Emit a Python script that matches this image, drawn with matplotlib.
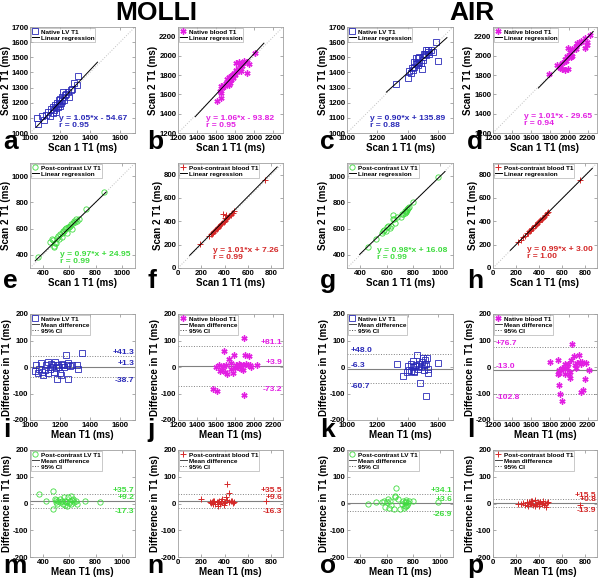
import numpy as np
import matplotlib
matplotlib.use("Agg")
from matplotlib import pyplot as plt
from matplotlib.lines import Line2D
from matplotlib.transforms import blended_transform_factory

plt.rcParams["font.family"] = ["Liberation Sans", "DejaVu Sans"]
plt.rcParams["font.weight"] = "bold"
plt.rcParams["axes.labelweight"] = "bold"
plt.rcParams["axes.unicode_minus"] = False

# ---------------- scan 1 vs scan 2 (ms) ----------------
molli_lv_s1 = [1045, 1050, 1080, 1090, 1105, 1120, 1130, 1140, 1150, 1160, 1165, 1170, 1180, 1185, 1190, 1195, 1200,
               1205, 1210, 1215, 1220, 1225, 1230, 1240, 1250, 1260, 1270, 1280, 1295, 1310, 1320, 1175, 1150, 1200]
molli_lv_s2 = [1100, 1060, 1110, 1085, 1120, 1140, 1115, 1160, 1175, 1150, 1185, 1165, 1200, 1175, 1215, 1190, 1225,
               1200, 1240, 1210, 1270, 1215, 1250, 1260, 1270, 1240, 1285, 1290, 1330, 1320, 1375, 1140, 1130, 1180]

molli_bl_s1 = [1612, 1655, 1640, 1650, 1665, 1680, 1690, 1700, 1710, 1720, 1730, 1740, 1750, 1760, 1770, 1780, 1790,
               1800, 1810, 1820, 1810, 1840, 1850, 1860, 1870, 1880, 1890, 1920, 1920, 1945, 2010, 1655, 1730, 1835]
molli_bl_s2 = [1528, 1565, 1640, 1620, 1670, 1700, 1690, 1720, 1760, 1740, 1780, 1720, 1750, 1790, 1800, 1770, 1820,
               1800, 1850, 1830, 1925, 1860, 1880, 1840, 1900, 1930, 1950, 1820, 1940, 1920, 2030, 1690, 1700, 1940]

air_lv_s1 = [1322, 1404, 1411, 1422, 1427, 1433, 1444, 1444, 1456, 1456, 1467, 1471, 1478, 1478, 1489, 1493, 1500,
             1511, 1522, 1522, 1533, 1533, 1544, 1556, 1567, 1589, 1600, 1462, 1505, 1515]
air_lv_s2 = [1324, 1361, 1411, 1396, 1431, 1415, 1437, 1470, 1455, 1492, 1492, 1448, 1470, 1503, 1459, 1420, 1485,
             1525, 1547, 1514, 1536, 1551, 1525, 1547, 1536, 1600, 1477, 1460, 1500, 1520]

air_bl_s1 = [1797, 1879, 1908, 1906, 1905, 1929, 1960, 1992, 1950, 1959, 1984, 1987, 2021, 2038, 2013, 1993, 2035,
             2061, 2078, 2083, 2086, 2110, 2174, 2128, 2135, 2198, 2193, 2172, 2226, 1929, 1977, 2020]
air_bl_s2 = [1817, 1904, 1896, 1885, 1877, 1861, 1858, 1862, 1941, 1969, 1981, 1999, 1993, 1998, 2038, 2080, 2076,
             2069, 2075, 2099, 2133, 2130, 2081, 2140, 2155, 2113, 2147, 2188, 2214, 1926, 1952, 2002]

molli_pclv_s1 = [359, 450, 485, 465, 478, 490, 502, 515, 527, 540, 552, 564, 577, 589, 601, 614, 626, 638, 651, 675,
                 725, 860, 500, 520, 545, 560, 580, 600, 620, 640, 660, 480]
molli_pclv_s2 = [385, 498, 463, 518, 513, 492, 528, 544, 556, 569, 582, 595, 608, 615, 620, 633, 646, 659, 672, 672,
                 749, 877, 490, 520, 540, 580, 570, 610, 600, 650, 660, 470]

molli_pcbl_s1 = [192, 269, 280, 290, 300, 310, 320, 330, 340, 350, 360, 370, 380, 387, 390, 400, 403, 410, 415, 420,
                 430, 440, 450, 460, 470, 480, 746, 300, 340, 365]
molli_pcbl_s2 = [208, 273, 290, 295, 305, 318, 330, 335, 345, 362, 365, 375, 390, 460, 392, 405, 426, 418, 453, 425,
                 440, 450, 455, 470, 475, 486, 754, 300, 350, 380]

air_pclv_s1 = [461, 520, 563, 571, 596, 599, 622, 665, 645, 655, 644, 675, 709, 716, 739, 735, 745, 750, 755, 760,
               770, 796, 988, 580, 610, 630, 720, 745]
air_pclv_s2 = [461, 524, 568, 581, 583, 615, 607, 643, 674, 677, 702, 691, 687, 714, 721, 735, 738, 748, 742, 758,
               765, 804, 992, 590, 620, 620, 715, 730]

air_pcbl_s1 = [214, 240, 260, 280, 290, 300, 310, 320, 330, 340, 350, 360, 370, 380, 390, 400, 410, 420, 430, 440,
               450, 460, 470, 480, 757, 330, 360, 395, 425]
air_pcbl_s2 = [220, 238, 262, 276, 296, 298, 315, 318, 332, 345, 345, 360, 372, 378, 392, 398, 410, 418, 430, 438,
               452, 455, 468, 478, 752, 322, 368, 400, 420]

# regression: slope, intercept, r
fit_slope = [1.05, 1.06, 0.90, 1.01, 0.97, 1.01, 0.98, 0.99]
fit_icept = [-54.67, -93.82, 135.89, -29.65, 24.95, 7.26, 16.08, 3.00]
fit_r = [0.95, 0.95, 0.88, 0.94, 0.99, 0.99, 0.99, 1.00]
fit_xrange = [(1040, 1450), (1380, 2100), (1260, 1660), (1680, 2260),
              (340, 880), (100, 850), (395, 1040), (150, 860)]

# ---------------- Bland-Altman: mean (ms), difference (ms) ----------------
ba_molli_lv_m = [1033, 1040, 1051, 1060, 1073, 1078, 1089, 1100, 1107, 1118, 1122, 1133, 1140, 1144, 1156, 1162, 1167,
                 1173, 1178, 1184, 1193, 1200, 1207, 1211, 1222, 1229, 1238, 1244, 1251, 1256, 1267, 1278, 1311, 1318, 1344]
ba_molli_lv_d = [-16, 6, -21, -9, 16, -19, -29, -12, 6, 19, -21, -6, 12, 0, 6, -19, 19,
                 -4, -44, 9, 1, -21, -29, 10, 6, 0, 46, 6, 16, -46, 4, 9, 6, -6, 54]

ba_molli_bl_m = [1570, 1610, 1680, 1890, 1890, 1900, 1940, 2030, 1593, 1629, 1657, 1671, 1700, 1718, 1736, 1754, 1771,
                 1789, 1807, 1825, 1843, 1861, 1879, 1914, 1932, 1950, 1968, 1645, 1690, 1760, 1800, 1850, 1880]
ba_molli_bl_d = [-84, -91, 59, 110, -106, 46, 40, 6, 0, 9, -12, 4, 6, -25, 31, -6, -21,
                 46, 6, 0, 12, -6, 6, 11, 6, 6, 0, -15, -20, 15, -5, 8, -10]

ba_air_lv_m = [1329, 1367, 1396, 1400, 1411, 1422, 1433, 1440, 1444, 1456, 1462, 1467, 1473, 1480, 1489, 1496, 1502,
               1507, 1511, 1518, 1524, 1529, 1533, 1538, 1522, 1600, 1433, 1450, 1422, 1478]
ba_air_lv_d = [12, -35, -19, 3, -10, 12, 0, -19, -15, 6, 44, -6, 10, -62, 0, 19, 35,
               -10, 6, 25, 12, 35, -6, -22, -110, 15, 22, 5, -15, 2]

ba_air_bl_m = [1807, 1891, 1902, 1895, 1891, 1895, 1909, 1927, 1945, 1964, 1982, 1993, 2007, 2018, 2025, 2036, 2055,
               2065, 2076, 2091, 2109, 2120, 2127, 2134, 2145, 2155, 2170, 2180, 2220, 1927, 1964, 2011]
ba_air_bl_d = [20, 25, -12, -21, -28, -68, -102, -130, -9, 10, -3, 12, -28, -40, 25, 87, 41,
               8, -3, 16, 47, 20, -93, 12, 20, -85, -46, 16, -12, -3, -25, -18]

ba_molli_pclv_m = [368, 425, 474, 474, 492, 499, 509, 516, 527, 540, 552, 560, 569, 577, 584, 592, 601, 609, 616, 626,
                   638, 651, 656, 720, 836, 530, 565, 600, 620, 500]
ba_molli_pclv_d = [35, 8, 48, -22, 16, 4, -3, 8, 4, 10, 0, 23, 10, 4, -9, 25, 10, 29, 0, 16,
                   4, 8, -3, 8, 4, 18, -5, 2, 12, 12]

ba_molli_pcbl_m = [200, 271, 280, 290, 300, 310, 320, 330, 340, 350, 360, 370, 380, 390, 400, 414, 423, 434, 440, 450,
                   460, 470, 480, 750, 345, 395, 300, 420]
ba_molli_pcbl_d = [16, 4, 2, 6, 0, 8, -2, 6, 4, 10, -3, 8, 16, 2, 5, 23, 73, 38, 4, 8,
                   10, 3, 6, 8, -8, -5, 10, 12]

ba_air_pclv_m = [461, 522, 566, 576, 590, 600, 607, 615, 625, 635, 654, 659, 666, 673, 683, 698, 715, 722, 730, 738,
                 742, 748, 752, 758, 765, 800, 990, 740, 745]
ba_air_pclv_d = [0, 4, 5, 10, -13, 6, 16, -15, 8, -4, -22, 29, 23, 58, 16, -22, -3, 8, -18, 4,
                 -8, 12, -6, 2, 10, 8, 4, -10, 5]

ba_air_pcbl_m = [214, 240, 260, 280, 290, 300, 310, 320, 330, 340, 350, 360, 370, 380, 390, 400, 410, 420, 430, 440,
                 450, 460, 470, 480, 757, 330, 365, 395]
ba_air_pcbl_d = [0, -2, 2, -5, 4, -8, 5, 2, -3, 8, -5, 12, 0, -2, 6, -10, 4, -3, 8, -6,
                 3, -12, 2, 5, -5, 10, -8, 3]

# mean difference, upper and lower 95% limits
ba_mean = [1.3, 3.9, -6.3, -13.0, 9.2, 9.6, 3.6, 0.8]
ba_upper = [41.3, 81.1, 48.0, 76.7, 35.7, 35.5, 34.1, 15.5]
ba_lower = [-38.7, -73.2, -60.7, -102.8, -17.3, -16.3, -26.9, -13.9]

series_names = ["Native LV T1", "Native blood T1", "Post-contrast LV T1", "Post-contrast blood T1"]

BLUE = "#2a2ab8"
MAGENTA = "#e21fe2"
GREEN = "#3fdc3f"
RED = "#d42828"

styles = {
    "lv": dict(marker="s", color=BLUE, ms=3.8, mfc="none", mew=0.6),
    "bl": dict(marker=(6, 2, 0), color=MAGENTA, ms=4.4, mfc=MAGENTA, mew=1.0),
    "pclv": dict(marker="o", color=GREEN, ms=3.8, mfc="none", mew=0.6),
    "pcbl": dict(marker="+", color=RED, ms=4.4, mew=0.7),
}

W, H = 600, 578
fig = plt.figure(figsize=(6, 5.78), dpi=100)

cols = [(30, 135), (178, 283), (347, 453), (493, 597)]
rows = [(27, 133), (163, 268), (314, 420), (450, 557)]


def px_axes(c, r):
    left, right = cols[c]
    top, bottom = rows[r]
    return fig.add_axes([left / W, 1 - bottom / H, (right - left) / W, (bottom - top) / H])


def style_axes(ax, lim_x, ticks_x, lim_y, ticks_y):
    ax.set_xlim(lim_x)
    ax.set_ylim(lim_y)
    ax.set_xticks(ticks_x)
    ax.set_yticks(ticks_y)
    ax.tick_params(direction="in", length=2, width=0.5, color="#888888", labelsize=5.6,
                   top=True, right=True, pad=1.2)
    for lab in ax.get_xticklabels() + ax.get_yticklabels():
        lab.set_fontweight("bold")
    for sp in ax.spines.values():
        sp.set_color("#a0a0a0")
        sp.set_linewidth(0.6)


def add_legend(ax, handles, labels):
    leg = ax.legend(handles, labels, loc="upper left", fontsize=4.6, frameon=True, fancybox=False,
                    borderpad=0.2, handlelength=1.0, handletextpad=0.3, labelspacing=0.08,
                    borderaxespad=0.15)
    leg.get_frame().set_edgecolor("#a0a0a0")
    leg.get_frame().set_linewidth(0.5)
    for t in leg.get_texts():
        t.set_fontweight("bold")


def scatter_panel(ax, k, s1, s2, key, name, lim, ticks, txt_pos):
    st = styles[key]
    ax.plot(lim, lim, ls=":", color="#c0c0c0", lw=0.7)
    ax.plot(s1, s2, ls="none", **st)
    fx = np.array(fit_xrange[k], dtype=float)
    ax.plot(fx, fit_slope[k] * fx + fit_icept[k], color="k", lw=0.7)
    style_axes(ax, lim, ticks, lim, ticks if lim[0] != 1000 else list(range(1000, 1701, 100)))
    sign = "+" if fit_icept[k] >= 0 else "-"
    ax.text(txt_pos[0], txt_pos[1], f"y = {fit_slope[k]:.2f}*x {sign} {abs(fit_icept[k]):.2f}\nr = {fit_r[k]:.2f}",
            transform=ax.transAxes, ha="left", va="bottom", fontsize=6.1, color=st["color"],
            fontweight="bold", linespacing=1.0)
    h1 = Line2D([], [], ls="none", **st)
    h2 = Line2D([], [], color="k", lw=0.7)
    add_legend(ax, [h1, h2], [name, "Linear regression"])
    ax.set_xlabel("Scan 1 T1 (ms)", fontsize=7, labelpad=1)
    ax.set_ylabel("Scan 2 T1 (ms)", fontsize=7, labelpad=0.5)


def ba_panel(ax, k, m, d, key, name, lim, ticks, side):
    st = styles[key]
    ax.axhline(ba_mean[k], color="#808080", lw=0.8)
    ax.axhline(ba_upper[k], color="#808080", lw=0.7, ls=":")
    ax.axhline(ba_lower[k], color="#808080", lw=0.7, ls=":")
    ax.plot(m, d, ls="none", **st)
    style_axes(ax, lim, ticks, (-200, 200), [-200, -100, 0, 100, 200])
    tr = blended_transform_factory(ax.transAxes, ax.transData)
    xt, ha = (0.995, "right") if side == "right" else (0.03, "left")
    for v, va in ((ba_upper[k], "bottom"), (ba_mean[k], "bottom"), (ba_lower[k], "top")):
        ax.text(xt, v, f"{v:+.1f}", transform=tr, ha=ha, va=va, fontsize=6.1,
                color=st["color"], fontweight="bold")
    h1 = Line2D([], [], ls="none", **st)
    h2 = Line2D([], [], color="#444444", lw=0.7)
    h3 = Line2D([], [], color="#444444", lw=0.7, ls=":")
    add_legend(ax, [h1, h2, h3], [name, "Mean difference", "95% CI"])
    ax.set_xlabel("Mean T1 (ms)", fontsize=7, labelpad=1)
    ax.set_ylabel("Difference in T1 (ms)", fontsize=7, labelpad=0.5)


lv_lim, lv_ticks = (1000, 1700), [1000, 1200, 1400, 1600]
bl_lim, bl_ticks = (1200, 2300), [1200, 1400, 1600, 1800, 2000, 2200]
pclv_lim, pclv_ticks = (300, 1100), [400, 600, 800, 1000]
pcbl_lim, pcbl_ticks = (0, 900), [0, 200, 400, 600, 800]

scatter_panel(px_axes(0, 0), 0, molli_lv_s1, molli_lv_s2, "lv", series_names[0], lv_lim, lv_ticks, (0.28, 0.035))
scatter_panel(px_axes(1, 0), 1, molli_bl_s1, molli_bl_s2, "bl", series_names[1], bl_lim, bl_ticks, (0.27, 0.04))
scatter_panel(px_axes(2, 0), 2, air_lv_s1, air_lv_s2, "lv", series_names[0], lv_lim, lv_ticks, (0.22, 0.04))
scatter_panel(px_axes(3, 0), 3, air_bl_s1, air_bl_s2, "bl", series_names[1], bl_lim, bl_ticks, (0.30, 0.055))
scatter_panel(px_axes(0, 1), 4, molli_pclv_s1, molli_pclv_s2, "pclv", series_names[2], pclv_lim, pclv_ticks, (0.29, 0.025))
scatter_panel(px_axes(1, 1), 5, molli_pcbl_s1, molli_pcbl_s2, "pcbl", series_names[3], pcbl_lim, pcbl_ticks, (0.33, 0.065))
scatter_panel(px_axes(2, 1), 6, air_pclv_s1, air_pclv_s2, "pclv", series_names[2], pclv_lim, pclv_ticks, (0.28, 0.07))
scatter_panel(px_axes(3, 1), 7, air_pcbl_s1, air_pcbl_s2, "pcbl", series_names[3], pcbl_lim, pcbl_ticks, (0.33, 0.075))

ba_panel(px_axes(0, 2), 0, ba_molli_lv_m, ba_molli_lv_d, "lv", series_names[0], lv_lim, lv_ticks, "right")
ba_panel(px_axes(1, 2), 1, ba_molli_bl_m, ba_molli_bl_d, "bl", series_names[1], bl_lim, bl_ticks, "right")
ba_panel(px_axes(2, 2), 2, ba_air_lv_m, ba_air_lv_d, "lv", series_names[0], lv_lim, lv_ticks, "left")
ba_panel(px_axes(3, 2), 3, ba_air_bl_m, ba_air_bl_d, "bl", series_names[1], bl_lim, bl_ticks, "left")
ba_panel(px_axes(0, 3), 4, ba_molli_pclv_m, ba_molli_pclv_d, "pclv", series_names[2], pclv_lim, pclv_ticks, "right")
ba_panel(px_axes(1, 3), 5, ba_molli_pcbl_m, ba_molli_pcbl_d, "pcbl", series_names[3], pcbl_lim, pcbl_ticks, "right")
ba_panel(px_axes(2, 3), 6, ba_air_pclv_m, ba_air_pclv_d, "pclv", series_names[2], pclv_lim, pclv_ticks, "right")
ba_panel(px_axes(3, 3), 7, ba_air_pcbl_m, ba_air_pcbl_d, "pcbl", series_names[3], pcbl_lim, pcbl_ticks, "right")

# titles and panel letters
fig.text(156 / W, 1 - 13 / H, "MOLLI", ha="center", va="center", fontsize=19, fontweight="bold")
fig.text(472 / W, 1 - 13 / H, "AIR", ha="center", va="center", fontsize=19, fontweight="bold")

letters = "abcdefghijklmnop"
letter_x = [3, 147, 320, 467]
letter_y = [149, 288, 437, 573]
for i, ch in enumerate(letters):
    r, c = divmod(i, 4)
    fig.text(letter_x[c] / W, 1 - letter_y[r] / H, ch, ha="left", va="baseline",
             fontsize=19, fontweight="bold")

fig.savefig("out.png", dpi=100)
